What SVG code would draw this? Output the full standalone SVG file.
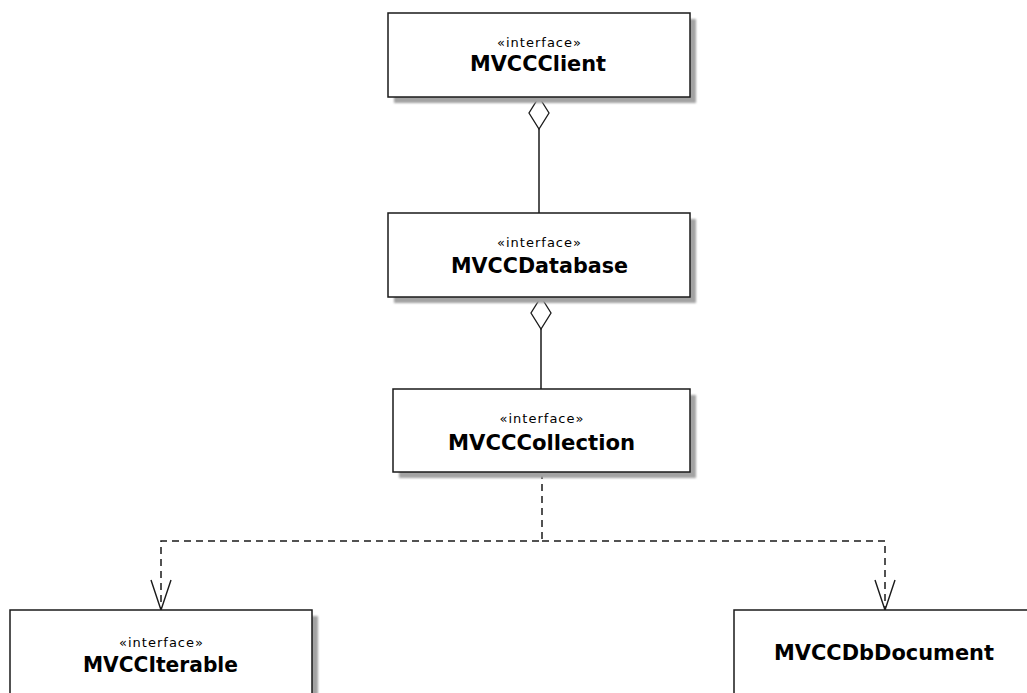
<svg xmlns="http://www.w3.org/2000/svg" width="1027" height="693" viewBox="0 0 1027 693">
  <defs>
    <filter id="soft" x="-10%" y="-10%" width="120%" height="120%">
      <feGaussianBlur stdDeviation="1.3"/>
    </filter>
    <style>
      .shadow { fill: #a3a3a3; filter: url(#soft); }
      .box { fill: #ffffff; stroke: #1a1a1a; stroke-width: 1.5; }
      .stereo { font-family: "DejaVu Sans", "Liberation Sans", sans-serif; font-size: 13px; fill: #000; text-anchor: middle; }
      .name { font-family: "DejaVu Sans", "Liberation Sans", sans-serif; font-size: 21px; font-weight: bold; fill: #000; text-anchor: middle; }
      .assoc { stroke: #1a1a1a; stroke-width: 1.5; fill: none; }
      .dep { stroke: #1a1a1a; stroke-width: 1.5; fill: none; stroke-dasharray: 7 5; }
      .diamond { fill: #ffffff; stroke: #1a1a1a; stroke-width: 1.3; }
      .head { stroke: #1a1a1a; stroke-width: 1.4; fill: none; }
    </style>
  </defs>
  <rect width="1027" height="693" fill="#ffffff"/>

  <!-- connectors -->
  <g id="connectors">
    <!-- aggregation: MVCCClient <>- MVCCDatabase -->
    <line class="assoc" x1="539" y1="128" x2="539" y2="213"/>
    <polygon class="diamond" points="539,97 549,113 539,129 529,113"/>
    <!-- aggregation: MVCCDatabase <>- MVCCCollection -->
    <line class="assoc" x1="541" y1="328" x2="541" y2="389"/>
    <polygon class="diamond" points="541,297 551,313 541,329 531,313"/>
    <!-- dependencies from MVCCCollection -->
    <polyline class="dep" points="542,472 542,541 161,541 161,609"/>
    <polyline class="dep" points="542,541 885,541 885,609"/>
    <polyline class="head" points="151,580 161,610 171,580"/>
    <polyline class="head" points="875,580 885,610 895,580"/>
  </g>

  <g id="MVCCClient">
    <rect class="shadow" x="394" y="19" width="302" height="84"/>
    <rect class="box" x="388" y="13" width="302" height="84"/>
    <text class="stereo" x="539" y="47" textLength="84" lengthAdjust="spacing">«interface»</text>
    <text class="name" x="538" y="70.5" textLength="136" lengthAdjust="spacingAndGlyphs">MVCCClient</text>
  </g>

  <g id="MVCCDatabase">
    <rect class="shadow" x="394" y="219" width="302" height="84"/>
    <rect class="box" x="388" y="213" width="302" height="84"/>
    <text class="stereo" x="539" y="247" textLength="84" lengthAdjust="spacing">«interface»</text>
    <text class="name" x="539.5" y="273" textLength="177" lengthAdjust="spacingAndGlyphs">MVCCDatabase</text>
  </g>

  <g id="MVCCCollection">
    <rect class="shadow" x="399" y="395" width="297" height="83"/>
    <rect class="box" x="393" y="389" width="297" height="83"/>
    <text class="stereo" x="541.5" y="423" textLength="84" lengthAdjust="spacing">«interface»</text>
    <text class="name" x="541.5" y="450" textLength="187" lengthAdjust="spacingAndGlyphs">MVCCCollection</text>
  </g>

  <g id="MVCCIterable">
    <rect class="shadow" x="16" y="616" width="302" height="84"/>
    <rect class="box" x="10" y="610" width="302" height="84"/>
    <text class="stereo" x="161" y="647" textLength="84" lengthAdjust="spacing">«interface»</text>
    <text class="name" x="160.5" y="672" textLength="155" lengthAdjust="spacingAndGlyphs">MVCCIterable</text>
  </g>

  <g id="MVCCDbDocument">
    <rect class="shadow" x="740" y="616" width="302" height="84"/>
    <rect class="box" x="734" y="610" width="302" height="84"/>
    <text class="name" x="884" y="660" textLength="220" lengthAdjust="spacingAndGlyphs">MVCCDbDocument</text>
  </g>
</svg>
